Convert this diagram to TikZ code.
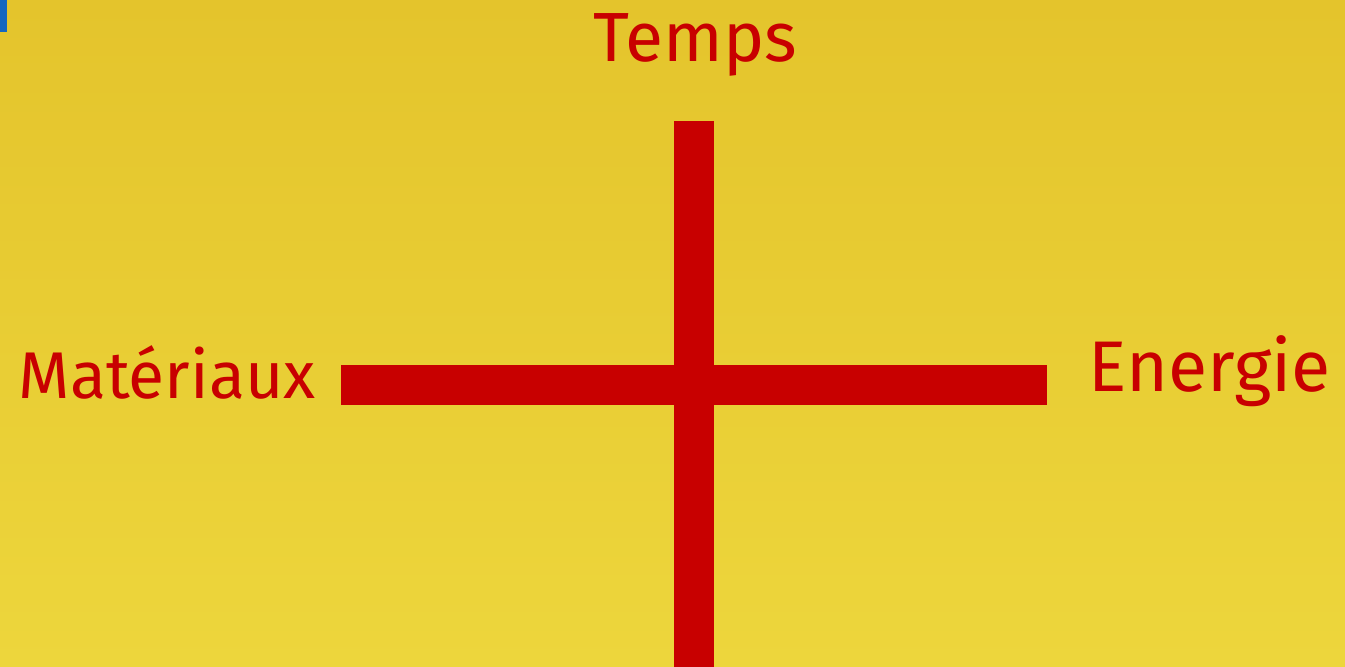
\documentclass[tikz,border=0pt]{standalone}
\usepackage{fontspec}
\setmainfont{Fira Sans}
\definecolor{CrossRed}{HTML}{C80000}
\definecolor{SunTop}{HTML}{E4C42C}
\definecolor{SunMid}{HTML}{F2E246}
\definecolor{SunLow}{HTML}{EDD63C}
\definecolor{EdgeBlue}{HTML}{1566C0}
\usetikzlibrary{positioning}

\begin{document}
\begin{tikzpicture}[
  bar/.style={CrossRed, line width=0.40cm},
  lbl/.style={text=CrossRed, inner sep=0pt}]
  % background
  \shade[top color=SunTop, middle color=SunMid, bottom color=SunLow]
    (0,0) rectangle (13.45,-6.67);
  \useasboundingbox (0,0) rectangle (13.45,-6.67);
  \fill[EdgeBlue] (0,0) rectangle (0.07,-0.32);
  % labels
  \node[lbl, anchor=base, font=\fontsize{19.8}{23}\selectfont] (temps) at (6.95,-0.62) {Temps};
  \node[lbl, anchor=base west, font=\fontsize{18.8}{22}\selectfont] (mat) at (0.18,-3.98) {Matériaux};
  \node[lbl, anchor=base west, font=\fontsize{20.4}{24}\selectfont] (energie) at (10.88,-3.92) {Energie};
  % cross
  \coordinate (top) at (6.94,-1.21);
  \coordinate (bottom) at (6.94,-6.67);
  \coordinate (left) at (3.41,-3.85);
  \coordinate (right) at (10.47,-3.85);
  \draw[bar] (left) -- (right);
  \draw[bar] (top) -- (bottom);
\end{tikzpicture}
\end{document}
